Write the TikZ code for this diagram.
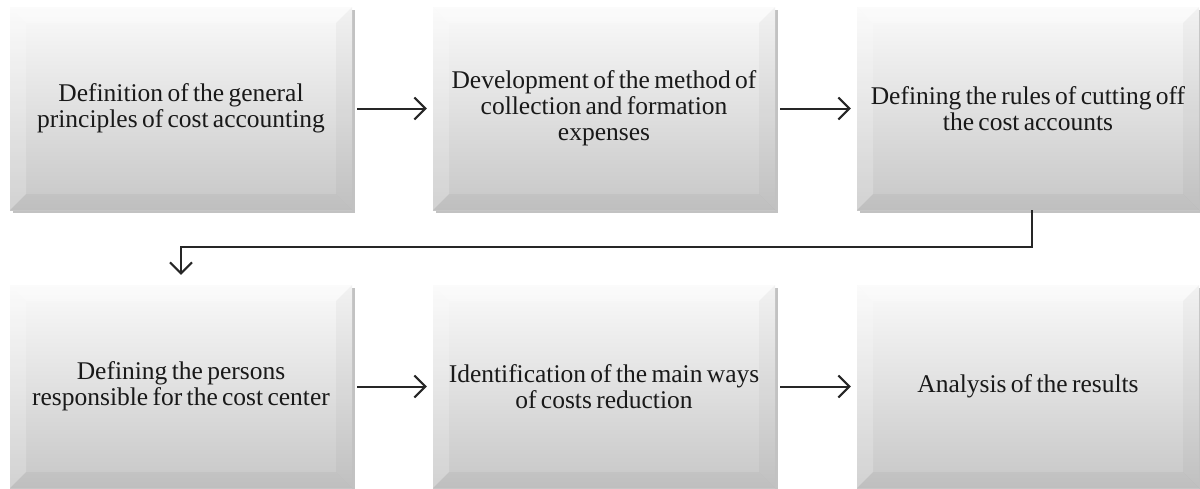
\documentclass[tikz,border=0pt]{standalone}
\usepackage{fontspec}
\setmainfont{Liberation Serif}
\usetikzlibrary{arrows.meta,shadows,calc}
\newcommand{\boxfont}{\fontsize{25.5}{26}\selectfont\spaceskip=0.17em plus 0.05em minus 0.02em\relax}
\begin{document}
\begin{tikzpicture}[x=1pt,y=-1pt,
  stepbox/.style={rectangle, minimum width=342pt, minimum height=203pt,
    inner sep=0pt, align=center, text=black!90,
    font=\boxfont,
    top color=white!98!black, bottom color=black!22,
    drop shadow={shadow xshift=2.5pt, shadow yshift=-3pt, opacity=0.4, fill=black!60},
    path picture={
      \fill[white, opacity=0.3] (path picture bounding box.north west) -- (path picture bounding box.north east)
        -- ([xshift=-16pt,yshift=-16pt]path picture bounding box.north east) -- ([xshift=16pt,yshift=-16pt]path picture bounding box.north west) -- cycle;
      \fill[white, opacity=0.2] (path picture bounding box.north west) -- ([xshift=16pt,yshift=-16pt]path picture bounding box.north west)
        -- ([xshift=16pt,yshift=16pt]path picture bounding box.south west) -- (path picture bounding box.south west) -- cycle;
      \fill[black, opacity=0.03] (path picture bounding box.north east) -- ([xshift=-16pt,yshift=-16pt]path picture bounding box.north east)
        -- ([xshift=-16pt,yshift=16pt]path picture bounding box.south east) -- (path picture bounding box.south east) -- cycle;
      \fill[black, opacity=0.04] (path picture bounding box.south west) -- ([xshift=16pt,yshift=16pt]path picture bounding box.south west)
        -- ([xshift=-16pt,yshift=16pt]path picture bounding box.south east) -- (path picture bounding box.south east) -- cycle;
    }},
  flow/.style={draw=black!85, line width=2pt, -{Straight Barb[length=11pt, width=22pt, line width=2pt]}}
]
\useasboundingbox (0,0) rectangle (1200,488);
\node[stepbox] (b1) at (181,108.5) {Definition of the general\\principles of cost accounting};
\node[stepbox] (b2) at (604,108.5) {Development of the method of\\collection and formation\\expenses};
\node[stepbox] (b3) at (1028,108.5) {Defining the rules of cutting off\\the cost accounts};
\node[stepbox] (b4) at (181,386.5) {Defining the persons\\responsible for the cost center};
\node[stepbox] (b5) at (604,386.5) {Identification of the main ways\\of costs reduction};
\node[stepbox] (b6) at (1028,386.5) {Analysis of the results};
\draw[flow, shorten <=5pt, shorten >=6pt] (b1) -- (b2);
\draw[flow, shorten <=5pt, shorten >=6pt] (b2) -- (b3);
\draw[flow, shorten <=5pt, shorten >=6pt] (b4) -- (b5);
\draw[flow, shorten <=5pt, shorten >=6pt] (b5) -- (b6);
\coordinate (c1) at ($(b3.south)+(4,0)$);
\draw[flow, shorten >=10pt] (c1) -- ++(0,37) -| (b4.north);
\end{tikzpicture}
\end{document}
